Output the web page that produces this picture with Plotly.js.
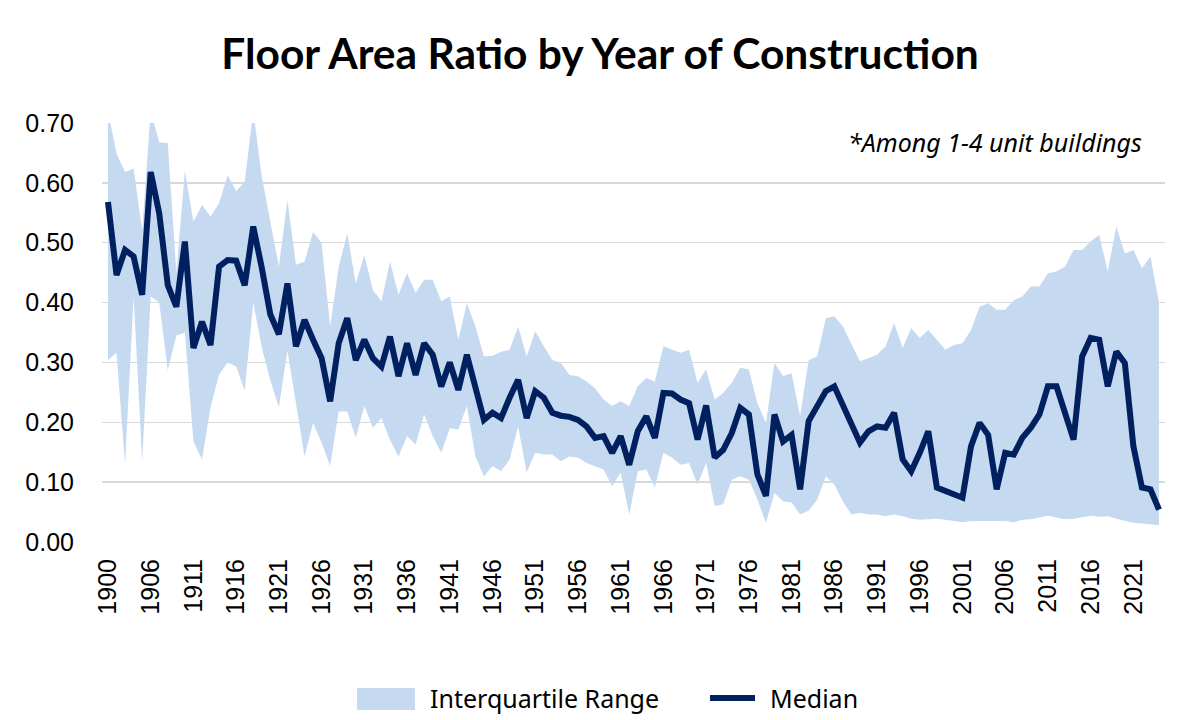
<!DOCTYPE html>
<html>
<head>
<meta charset="utf-8">
<script src="https://cdn.plot.ly/plotly-3.0.1.min.js"></script>
<style>html,body{margin:0;padding:0;background:#fff;}#chart{width:1200px;height:720px;}</style>
</head>
<body>
<div id="chart"></div>
<script>
// Years of construction (category axis; 1901 absent in source)
const years = ["1900"];
for (let y = 1902; y <= 2024; y++) years.push(String(y));

const median = [
  0.568, 0.446, 0.488, 0.477, 0.413, 0.618, 0.549, 0.429, 0.393, 0.502,
  0.324, 0.368, 0.329, 0.460, 0.471, 0.470, 0.429, 0.527, 0.458, 0.380,
  0.347, 0.432, 0.327, 0.371, 0.338, 0.307, 0.235, 0.332, 0.374, 0.304,
  0.338, 0.307, 0.293, 0.343, 0.277, 0.332, 0.279, 0.332, 0.313, 0.260,
  0.300, 0.254, 0.313, 0.260, 0.204, 0.216, 0.207, 0.241, 0.271, 0.207,
  0.252, 0.241, 0.216, 0.211, 0.209, 0.204, 0.193, 0.174, 0.177, 0.149,
  0.177, 0.129, 0.185, 0.210, 0.174, 0.249, 0.248, 0.238, 0.232, 0.171,
  0.228, 0.141, 0.154, 0.182, 0.224, 0.213, 0.113, 0.077, 0.213, 0.168,
  0.179, 0.088, 0.202, 0.227, 0.252, 0.260, 0.227, 0.193, 0.166, 0.185,
  0.193, 0.191, 0.216, 0.138, 0.118, 0.149, 0.185, 0.091, 0.085, 0.079,
  0.074, 0.160, 0.199, 0.179, 0.088, 0.149, 0.146, 0.174, 0.191, 0.213,
  0.260, 0.260, 0.216, 0.171, 0.310, 0.341, 0.338, 0.260, 0.318, 0.299,
  0.160, 0.091, 0.088, 0.054
];

const q3 = [
  0.720, 0.649, 0.618, 0.624, 0.520, 0.720, 0.668, 0.666, 0.450, 0.620,
  0.535, 0.563, 0.544, 0.566, 0.613, 0.586, 0.602, 0.720, 0.610, 0.535,
  0.460, 0.571, 0.463, 0.468, 0.518, 0.499, 0.360, 0.460, 0.516, 0.432,
  0.479, 0.421, 0.402, 0.468, 0.413, 0.449, 0.416, 0.438, 0.438, 0.402,
  0.410, 0.338, 0.399, 0.360, 0.310, 0.311, 0.318, 0.321, 0.360, 0.310,
  0.352, 0.327, 0.304, 0.299, 0.279, 0.277, 0.268, 0.257, 0.238, 0.227,
  0.235, 0.227, 0.260, 0.274, 0.268, 0.327, 0.321, 0.316, 0.321, 0.266,
  0.288, 0.238, 0.249, 0.266, 0.291, 0.288, 0.232, 0.199, 0.299, 0.277,
  0.282, 0.210, 0.304, 0.310, 0.374, 0.377, 0.360, 0.332, 0.302, 0.307,
  0.313, 0.327, 0.366, 0.324, 0.357, 0.341, 0.354, 0.338, 0.321, 0.329,
  0.332, 0.354, 0.393, 0.399, 0.388, 0.388, 0.404, 0.410, 0.427, 0.427,
  0.449, 0.452, 0.460, 0.488, 0.488, 0.502, 0.513, 0.452, 0.527, 0.482,
  0.488, 0.457, 0.477, 0.399
];

const q1 = [
  0.304, 0.316, 0.130, 0.410, 0.135, 0.410, 0.400, 0.287, 0.345, 0.350,
  0.168, 0.138, 0.225, 0.280, 0.300, 0.293, 0.253, 0.400, 0.325, 0.270,
  0.225, 0.320, 0.232, 0.143, 0.199, 0.166, 0.127, 0.218, 0.218, 0.174,
  0.227, 0.191, 0.207, 0.171, 0.143, 0.177, 0.163, 0.213, 0.177, 0.149,
  0.190, 0.188, 0.227, 0.143, 0.110, 0.127, 0.118, 0.138, 0.193, 0.116,
  0.149, 0.146, 0.146, 0.135, 0.143, 0.141, 0.132, 0.127, 0.121, 0.093,
  0.116, 0.046, 0.118, 0.121, 0.091, 0.149, 0.141, 0.129, 0.132, 0.096,
  0.132, 0.060, 0.063, 0.104, 0.110, 0.104, 0.071, 0.032, 0.082, 0.068,
  0.066, 0.046, 0.052, 0.071, 0.110, 0.096, 0.068, 0.046, 0.049, 0.046,
  0.046, 0.043, 0.046, 0.043, 0.039, 0.037, 0.038, 0.039, 0.037, 0.035,
  0.033, 0.035, 0.035, 0.035, 0.035, 0.035, 0.033, 0.037, 0.038, 0.041,
  0.044, 0.041, 0.038, 0.039, 0.042, 0.044, 0.042, 0.043, 0.039, 0.035,
  0.032, 0.031, 0.029, 0.028
];

// Every fifth category is labelled
const tickLabels = years.filter((_, i) => i % 5 === 0);
const yTicks = [0, 0.1, 0.2, 0.3, 0.4, 0.5, 0.6, 0.7];
const seriesNames = ["Interquartile Range", "Median"];

const bandColor = "#c5d9f1";
const lineColor = "#002060";

const traces = [
  {
    x: years, y: q1, type: "scatter", mode: "lines",
    line: {width: 0, color: bandColor}, showlegend: false, hoverinfo: "skip"
  },
  {
    x: years, y: q3, type: "scatter", mode: "lines", name: seriesNames[0],
    fill: "tonexty", fillcolor: bandColor, showlegend: false,
    line: {width: 0, color: bandColor}, hoverinfo: "skip"
  },
  {
    x: years, y: median, type: "scatter", mode: "lines", name: seriesNames[1],
    showlegend: false,
    line: {width: 6, color: lineColor}
  }
];

const legendFont = {family: "'Noto Sans', sans-serif", size: 25, color: "#000000"};
const legY = -0.3723;

const layout = {
  width: 1200, height: 720,
  paper_bgcolor: "#ffffff", plot_bgcolor: "#ffffff",
  margin: {l: 102, r: 35, t: 123, b: 178},
  title: {
    text: "<b>Floor Area Ratio by Year of Construction</b>",
    x: 0.5, xanchor: "center", y: 0.925, yanchor: "middle",
    font: {family: "Lato, 'Noto Sans', sans-serif", size: 42.5, color: "#000000"}
  },
  xaxis: {
    type: "category",
    range: [-0.7, years.length - 0.3],
    tickmode: "array", tickvals: tickLabels, ticktext: tickLabels,
    tickangle: -90,
    tickfont: {family: "'Liberation Sans', Arial, sans-serif", size: 25, color: "#000000"},
    showgrid: false, zeroline: false, showline: false,
    ticks: "outside", ticklen: 6, tickcolor: "rgba(0,0,0,0)"
  },
  yaxis: {
    range: [0, 0.7],
    tickmode: "array", tickvals: yTicks, tickformat: ".2f",
    tickfont: {family: "'Liberation Sans', Arial, sans-serif", size: 25, color: "#000000"},
    showgrid: true, gridcolor: "#d9d9d9", gridwidth: 1.5,
    zeroline: false, showline: false,
    ticks: "outside", ticklen: 22, tickcolor: "rgba(0,0,0,0)"
  },
  shapes: [
    {type: "rect", xref: "paper", yref: "paper",
     x0: 0.2399, x1: 0.2944, y0: -0.401, y1: -0.3484,
     fillcolor: bandColor, line: {width: 0}},
    {type: "line", xref: "paper", yref: "paper",
     x0: 0.572, x1: 0.6143, y0: legY, y1: legY,
     line: {color: lineColor, width: 6}}
  ],
  annotations: [
    {
      xref: "paper", yref: "paper", x: 0.98, y: 0.955, xanchor: "right", yanchor: "middle",
      text: "<i>*Among 1-4 unit buildings</i>", showarrow: false,
      font: {family: "'Noto Sans', sans-serif", size: 25, color: "#000000"}
    },
    {
      xref: "paper", yref: "paper", x: 0.3067, y: legY, xanchor: "left", yanchor: "middle",
      text: seriesNames[0], showarrow: false, font: legendFont
    },
    {
      xref: "paper", yref: "paper", x: 0.6265, y: legY, xanchor: "left", yanchor: "middle",
      text: seriesNames[1], showarrow: false, font: legendFont
    }
  ],
  showlegend: false,
  hovermode: false
};

Plotly.newPlot("chart", traces, layout, {staticPlot: true, displayModeBar: false});
</script>
</body>
</html>
